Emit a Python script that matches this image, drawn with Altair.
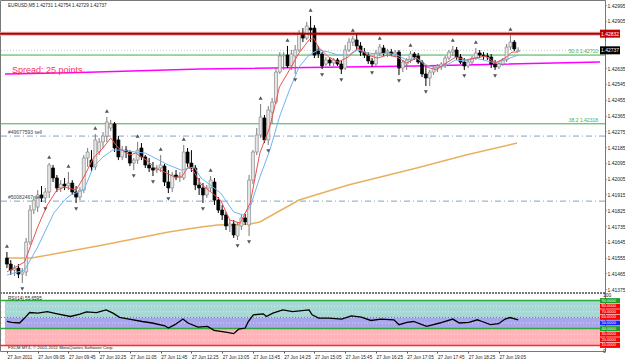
import altair as alt
import pandas as pd

HEADER = "EURUSD,M5  1.42731 1.42754 1.42729 1.42737"
SPREAD_TEXT = "Spread: 25 points"
RSI_TEXT = "RSI(14) 55.6595"
COPYRIGHT = "FXCM MT4, \u00a9 2001-2011 MetaQuotes Software Corp."

OPEN = [1.41552, 1.41518, 1.41484, 1.41495, 1.41461, 1.41473, 1.41644, 1.41826, 1.41843, 1.41912,
        1.41895, 1.41929, 1.42066, 1.42009, 1.41952, 1.41974, 1.41963, 1.41980, 1.41929, 1.41900,
        1.41940, 1.42123, 1.42111, 1.42072, 1.42157, 1.42214, 1.42248, 1.42294, 1.42317, 1.42226,
        1.42129, 1.42168, 1.42157, 1.42094, 1.42111, 1.42180, 1.42129, 1.42083, 1.42066, 1.42054,
        1.42066, 1.42077, 1.41986, 1.41952, 1.42026, 1.42014, 1.42009, 1.42157, 1.42094, 1.42066,
        1.41969, 1.41952, 1.41912, 1.41952, 1.41986, 1.41883, 1.41826, 1.41798, 1.41735, 1.41746,
        1.41678, 1.41735, 1.41781, 1.41741, 1.41997, 1.42157, 1.42254, 1.42351, 1.42226, 1.42385,
        1.42442, 1.42613, 1.42705, 1.42710, 1.42648, 1.42705, 1.42739, 1.42830, 1.42807, 1.42864,
        1.42864, 1.42739, 1.42716, 1.42659, 1.42682, 1.42665, 1.42682, 1.42659, 1.42636, 1.42739,
        1.42784, 1.42796, 1.42762, 1.42727, 1.42710, 1.42676, 1.42659, 1.42722, 1.42750, 1.42722,
        1.42727, 1.42716, 1.42727, 1.42636, 1.42659, 1.42682, 1.42716, 1.42705, 1.42670, 1.42602,
        1.42579, 1.42613, 1.42636, 1.42642, 1.42659, 1.42693, 1.42727, 1.42739, 1.42699, 1.42670,
        1.42648, 1.42670, 1.42693, 1.42722, 1.42710, 1.42705, 1.42699, 1.42659, 1.42642, 1.42659,
        1.42682, 1.42756, 1.42784, 1.42731]
HIGH = [1.41587, 1.41541, 1.41512, 1.41518, 1.41495, 1.41667, 1.41855, 1.41906, 1.41940, 1.41963,
        1.41952, 1.42094, 1.42083, 1.42026, 1.41997, 1.42009, 1.42043, 1.41997, 1.41963, 1.41957,
        1.42140, 1.42180, 1.42168, 1.42260, 1.42237, 1.42271, 1.42357, 1.42340, 1.42328, 1.42248,
        1.42191, 1.42191, 1.42168, 1.42123, 1.42214, 1.42208, 1.42140, 1.42123, 1.42100, 1.42083,
        1.42140, 1.42089, 1.42054, 1.42043, 1.42054, 1.42043, 1.42197, 1.42180, 1.42168, 1.42083,
        1.42009, 1.41980, 1.41969, 1.42020, 1.42009, 1.41900, 1.41855, 1.41815, 1.41769, 1.41769,
        1.41758, 1.41798, 1.41803, 1.42026, 1.42168, 1.42294, 1.42431, 1.42368, 1.42419, 1.42465,
        1.42636, 1.42727, 1.42727, 1.42762, 1.42739, 1.42767, 1.42853, 1.42864, 1.42899, 1.42933,
        1.42881, 1.42762, 1.42727, 1.42699, 1.42699, 1.42693, 1.42693, 1.42682, 1.42767, 1.42807,
        1.42819, 1.42830, 1.42784, 1.42750, 1.42727, 1.42693, 1.42739, 1.42773, 1.42767, 1.42745,
        1.42745, 1.42739, 1.42739, 1.42682, 1.42693, 1.42733, 1.42727, 1.42722, 1.42682, 1.42648,
        1.42625, 1.42648, 1.42659, 1.42670, 1.42705, 1.42739, 1.42762, 1.42756, 1.42716, 1.42693,
        1.42682, 1.42705, 1.42750, 1.42739, 1.42727, 1.42722, 1.42716, 1.42682, 1.42670, 1.42693,
        1.42773, 1.42824, 1.42796, 1.42754]
LOW = [1.41495, 1.41456, 1.41450, 1.41438, 1.41410, 1.41450, 1.41627, 1.41803, 1.41815, 1.41872,
       1.41866, 1.41895, 1.41986, 1.41929, 1.41929, 1.41940, 1.41940, 1.41912, 1.41866, 1.41883,
       1.41923, 1.42072, 1.42043, 1.42054, 1.42140, 1.42180, 1.42214, 1.42277, 1.42157, 1.42111,
       1.42111, 1.42123, 1.42077, 1.42054, 1.42089, 1.42111, 1.42066, 1.42043, 1.42020, 1.42037,
       1.42043, 1.41963, 1.41923, 1.41929, 1.41997, 1.41986, 1.41997, 1.42072, 1.42043, 1.41940,
       1.41912, 1.41866, 1.41895, 1.41929, 1.41855, 1.41809, 1.41769, 1.41712, 1.41701, 1.41667,
       1.41655, 1.41712, 1.41741, 1.41678, 1.41974, 1.42140, 1.42237, 1.42208, 1.42197, 1.42317,
       1.42431, 1.42602, 1.42625, 1.42636, 1.42625, 1.42602, 1.42727, 1.42784, 1.42796, 1.42784,
       1.42693, 1.42693, 1.42630, 1.42648, 1.42648, 1.42648, 1.42648, 1.42602, 1.42625, 1.42727,
       1.42762, 1.42739, 1.42705, 1.42693, 1.42659, 1.42642, 1.42648, 1.42705, 1.42705, 1.42699,
       1.42705, 1.42699, 1.42596, 1.42613, 1.42625, 1.42665, 1.42682, 1.42659, 1.42585, 1.42533,
       1.42533, 1.42596, 1.42613, 1.42625, 1.42636, 1.42682, 1.42705, 1.42682, 1.42659, 1.42625,
       1.42636, 1.42659, 1.42682, 1.42693, 1.42682, 1.42682, 1.42636, 1.42625, 1.42630, 1.42648,
       1.42670, 1.42739, 1.42733, 1.42729]
CLOSE = [1.41518, 1.41484, 1.41495, 1.41461, 1.41473, 1.41644, 1.41826, 1.41883, 1.41912, 1.41895,
         1.41929, 1.42083, 1.42009, 1.41952, 1.41974, 1.41963, 1.41980, 1.41929, 1.41900, 1.41940,
         1.42123, 1.42157, 1.42072, 1.42226, 1.42214, 1.42248, 1.42328, 1.42317, 1.42180, 1.42129,
         1.42168, 1.42157, 1.42094, 1.42111, 1.42168, 1.42129, 1.42083, 1.42066, 1.42054, 1.42066,
         1.42083, 1.41986, 1.41952, 1.42026, 1.42014, 1.42020, 1.42157, 1.42094, 1.42066, 1.41969,
         1.41952, 1.41912, 1.41952, 1.41997, 1.41883, 1.41826, 1.41798, 1.41735, 1.41746, 1.41684,
         1.41741, 1.41781, 1.41758, 1.41997, 1.42157, 1.42254, 1.42357, 1.42226, 1.42397, 1.42442,
         1.42613, 1.42705, 1.42710, 1.42648, 1.42716, 1.42739, 1.42830, 1.42807, 1.42876, 1.42853,
         1.42710, 1.42716, 1.42648, 1.42682, 1.42665, 1.42682, 1.42659, 1.42630, 1.42739, 1.42784,
         1.42802, 1.42762, 1.42727, 1.42710, 1.42676, 1.42659, 1.42722, 1.42756, 1.42722, 1.42733,
         1.42716, 1.42727, 1.42636, 1.42670, 1.42682, 1.42716, 1.42699, 1.42670, 1.42602, 1.42579,
         1.42613, 1.42636, 1.42648, 1.42659, 1.42693, 1.42727, 1.42739, 1.42699, 1.42670, 1.42648,
         1.42670, 1.42693, 1.42722, 1.42710, 1.42705, 1.42699, 1.42659, 1.42642, 1.42659, 1.42682,
         1.42756, 1.42784, 1.42745, 1.42737]

FRACTAL_UP = [0, 11, 16, 23, 26, 34, 40, 46, 53, 66, 73, 79, 90, 97, 105, 116, 122, 131]
FRACTAL_DOWN = [4, 10, 18, 33, 38, 42, 51, 60, 63, 68, 75, 82, 87, 95, 102, 109, 119, 127]

EMA_FAST_BAR = [0, 4.6, 8, 10.5, 13, 15, 18, 20, 22.5, 25, 27, 29, 32, 33.5, 35, 37, 38.5, 41, 43.6, 45.4,
                47.2, 48.7, 50.5, 55.6, 58, 60.7, 63.3, 65.8, 68.4, 70.9, 73.5, 76, 78.6, 79.8, 81, 83.7,
                86.2, 88.8, 91.3, 93.9, 96.4, 99, 101.5, 104, 106.6, 109.2, 111.7, 114.3, 116.8, 119.4,
                121.9, 124.5, 127, 129.6, 131.4, 133]
EMA_FAST = [1.41473, 1.41530, 1.41729, 1.41855, 1.41940, 1.41957, 1.41940, 1.42014, 1.42123, 1.42180,
            1.42237, 1.42180, 1.42140, 1.42151, 1.42129, 1.42100, 1.42066, 1.42043, 1.42014, 1.42014,
            1.42072, 1.42043, 1.41974, 1.41883, 1.41769, 1.41752, 1.41866, 1.42151, 1.42300, 1.42528,
            1.42625, 1.42722, 1.42796, 1.42807, 1.42756, 1.42699, 1.42670, 1.42699, 1.42750, 1.42710,
            1.42693, 1.42710, 1.42699, 1.42665, 1.42693, 1.42642, 1.42625, 1.42665, 1.42699, 1.42682,
            1.42693, 1.42705, 1.42665, 1.42693, 1.42727, 1.42727]
EMA_SLOW_BAR = [0, 4.6, 8, 12.2, 15, 16.6, 20, 22.5, 25, 27.5, 30, 33.4, 36, 38.5, 42, 45.4, 48.7, 50.5,
                55.6, 59, 61.5, 63.3, 65.8, 68.4, 70.9, 73.5, 76, 78.6, 81, 83.7, 86.2, 88.8, 91.3, 93.9,
                96.4, 99, 101.5, 104, 106.6, 109.2, 111.7, 114.3, 116.8, 119.4, 121.9, 127, 129.6, 133]
EMA_SLOW = [1.41456, 1.41484, 1.41615, 1.41809, 1.41883, 1.41912, 1.41940, 1.42072, 1.42129, 1.42168,
            1.42168, 1.42157, 1.42151, 1.42123, 1.42083, 1.42054, 1.42072, 1.42009, 1.41923, 1.41815,
            1.41798, 1.41843, 1.42014, 1.42168, 1.42357, 1.42511, 1.42642, 1.42710, 1.42739, 1.42727,
            1.42710, 1.42710, 1.42739, 1.42722, 1.42716, 1.42722, 1.42710, 1.42682, 1.42693, 1.42653,
            1.42636, 1.42653, 1.42682, 1.42676, 1.42693, 1.42665, 1.42682, 1.42710]
MA_LONG_BAR = [0, 6.4, 25, 42.1, 50.5, 54.8, 63.3, 65.8, 76, 88.8, 106.6, 119.4, 132.7]
MA_LONG = [1.41552, 1.41552, 1.41627, 1.41701, 1.41729, 1.41741, 1.41746, 1.41758, 1.41883, 1.41969,
           1.42066, 1.42140, 1.42208]
SPREAD_LINE_BAR = [-0.5, 16.6, 50.5, 106.6, 154.3]
SPREAD_LINE = [1.42602, 1.42609, 1.42630, 1.42648, 1.42670]

RESIST_LEVEL = 1.42832
BID_LEVEL = 1.42737
FIB_LEVELS = [1.42710, 1.42318]
FIB_LABELS = ["50.0 1.42710", "38.2 1.42318"]
ORDER_LEVELS = [1.42248, 1.41877]
ORDER_LABELS = ["#49677593 sell", "#50082467 sell"]
SPREAD_TEXT_LEVEL = 1.42625

RSI_BAR = [0, 1.2, 3.3, 4.6, 5.9, 8.0, 10.5, 13.1, 16.5, 19.0, 20.7, 23.3, 25.8, 27.6, 29.3, 31.8, 35.2,
           37.8, 41.1, 42.0, 43.7, 45.8, 47.1, 49.7, 52.2, 53.9, 57.3, 59.0, 60.3, 62.0, 62.8, 64.1,
           66.7, 67.5, 69.2, 71.8, 74.3, 78.6, 79.4, 81.1, 83.7, 87.1, 89.6, 92.2, 94.7, 97.3, 100.7,
           102.0, 104.1, 105.8, 109.2, 112.6, 116.0, 117.7, 120.2, 122.4, 123.6, 125.8, 127.9, 129.6,
           130.9, 133]
RSI = [52.7, 51, 50, 58.8, 68.7, 67.6, 70.4, 66.4, 61.6, 66, 70, 68.7, 73.5, 67.6, 60, 57, 52.7,
       50, 45, 41, 47, 57, 50, 42.8, 44, 36.8, 33.3, 31, 39, 41, 52.7, 64.6,
       66.4, 61.6, 67.6, 73.5, 70.4, 73.5, 64.6, 58.8, 58.8, 57, 62.8, 60.5, 54.5, 57, 55.7,
       47, 51, 52.7, 44, 50, 57, 50, 51, 55.7, 52.7, 47, 48.7, 57,
       59.8, 55.66]

PRICE_TICKS = [1.41375, 1.41465, 1.41555, 1.41645, 1.41735, 1.41825, 1.41915, 1.42005, 1.42095,
               1.42185, 1.42275, 1.42365, 1.42455, 1.42545, 1.42635, 1.42905, 1.42995]
TIME_TICKS = [0, 8, 16, 24, 32, 40, 48, 56, 64, 72, 80, 88, 96, 104, 112, 120, 128]
TIME_LABELS = ["27 Jun 2011", "27 Jun 09:05", "27 Jun 09:45", "27 Jun 10:25", "27 Jun 11:05",
               "27 Jun 11:45", "27 Jun 12:25", "27 Jun 13:05", "27 Jun 13:45", "27 Jun 14:25",
               "27 Jun 15:05", "27 Jun 15:45", "27 Jun 16:25", "27 Jun 17:05", "27 Jun 17:45",
               "27 Jun 18:25", "27 Jun 19:05"]

RSI_BANDS_LO = [60, 40, 10]
RSI_BANDS_HI = [90, 60, 40]
RSI_BAND_COLORS = ["#a6d9d6", "#a9a6ee", "#ffb4b9"]
RSI_SOLID = [90, 40, 10]
RSI_SOLID_COLORS = ["#2fa83c", "#2fa83c", "#ff2a2a"]
RSI_DOTTED = [80, 70, 60, 50, 30, 20]
RSI_DOTTED_COLORS = ["#d8eeee", "#d8eeee", "#d0602c", "#d4d2fa", "#ffd6d8", "#ffd6d8"]
RSI_BOX_LEVELS = [90, 80, 70, 60, 50, 40, 30, 20, 10]
RSI_BOX_COLORS = ["#1c9c2c", "#ff0000", "#ff0000", "#ff0000", "#2020ff", "#1c9c2c", "#ff0000", "#ff0000", "#ff0000"]

FONT = "Liberation Sans"
X_MIN, X_MAX = -0.5, 154.3
P_MIN, P_MAX = 1.41353, 1.43024
PLOT_W = 605

xs = alt.Scale(domain=[X_MIN, X_MAX], nice=False, zero=False)
ps = alt.Scale(domain=[P_MIN, P_MAX], range=[293, 0], nice=False, zero=False)
rs = alt.Scale(domain=[0, 100], range=[351, 295], nice=False, zero=False)

n = len(OPEN)
candles = pd.DataFrame({"i": list(range(n)), "o": OPEN, "h": HIGH, "l": LOW, "c": CLOSE})
candles["dir"] = ["bull" if c >= o else "bear" for o, c in zip(OPEN, CLOSE)]
up = candles[candles["i"].isin(FRACTAL_UP)]
down = candles[candles["i"].isin(FRACTAL_DOWN)]

time_expr = " : ".join("datum.value == %d ? '%s'" % (t, s) for t, s in zip(TIME_TICKS, TIME_LABELS)) + " : ''"
x_axis = alt.Axis(values=TIME_TICKS, labelExpr=time_expr,
                  orient="bottom", labelAlign="left", labelBaseline="top", labelFontSize=4.6, labelFont=FONT,
                  labelColor="#222", tickSize=2, tickColor="#555", labelPadding=1, domain=False, grid=False,
                  title=None, labelFlush=False, labelOverlap=False)
y_axis = alt.Axis(values=PRICE_TICKS, format=".5f", orient="right", labelFontSize=5, labelFont=FONT,
                  labelColor="#222", tickSize=1, tickColor="#555", domainColor="#6a7a8a", labelPadding=1,
                  grid=False, title=None, labelOverlap=False, labelFlush=False)

def X(field, axis=None):
    return alt.X(field, type="quantitative", scale=xs, axis=axis)

def P(field, axis=None):
    return alt.Y(field, type="quantitative", scale=ps, axis=axis)

base_c = alt.Chart(candles)
wicks = base_c.mark_rule(strokeWidth=1).encode(
    x=X("i"), y=P("l"), y2="h",
    color=alt.Color("dir:N", scale=alt.Scale(domain=["bull", "bear"], range=["#7a7a7a", "#000000"]), legend=None))
bodies = base_c.mark_bar(size=3, strokeWidth=0.7).encode(
    x=X("i"), y=P("o"), y2="c",
    fill=alt.Fill("dir:N", scale=alt.Scale(domain=["bull", "bear"], range=["#e6e6e6", "#000000"]), legend=None),
    stroke=alt.Stroke("dir:N", scale=alt.Scale(domain=["bull", "bear"], range=["#8a8a8a", "#000000"]), legend=None))
frac_up = alt.Chart(up).mark_point(shape="triangle-up", filled=True, size=16, color="#555555", yOffset=-6, opacity=1).encode(
    x=X("i"), y=P("h"))
frac_dn = alt.Chart(down).mark_point(shape="triangle-down", filled=True, size=16, color="#555555", yOffset=6, opacity=1).encode(
    x=X("i"), y=P("l"))

def series(bars, vals, color, width):
    df = pd.DataFrame({"b": bars, "v": vals})
    return alt.Chart(df).mark_line(color=color, strokeWidth=width).encode(x=X("b"), y=P("v"))

ma_line = series(MA_LONG_BAR, MA_LONG, "#e8b060", 1.5)
slow_line = series(EMA_SLOW_BAR, EMA_SLOW, "#6fb4ee", 1)
fast_line = series(EMA_FAST_BAR, EMA_FAST, "#f05050", 1)
spread_line = series(SPREAD_LINE_BAR, SPREAD_LINE, "#ff00ff", 1.5)

one = pd.DataFrame({"k": [0]})
def hline(level, color, width, dash=None):
    kw = dict(color=color, strokeWidth=width)
    if dash:
        kw["strokeDash"] = dash
    return alt.Chart(one).mark_rule(**kw).encode(y=alt.datum(level, type="quantitative", scale=ps, axis=None))

resist_halo = hline(RESIST_LEVEL, "#f2b6b6", 4)
resist = hline(RESIST_LEVEL, "#b00000", 2)
bid = hline(BID_LEVEL, "#c8c8c8", 1, [1, 2])
fibs = [hline(v, "#3cae48", 1) for v in FIB_LEVELS]
orders = [hline(v, "#7ea4cc", 1, [6, 3, 1, 3]) for v in ORDER_LEVELS]
divider = hline(P_MIN, "#7a7a7a", 2, [2, 1])

fib_df = pd.DataFrame({"v": FIB_LEVELS, "t": FIB_LABELS})
fib_text = alt.Chart(fib_df).mark_text(align="right", baseline="bottom", dx=-2, dy=-1, fontSize=5,
                                       font=FONT, color="#3cae48").encode(
    x=alt.datum(X_MAX, type="quantitative", scale=xs, axis=None), y=P("v"), text="t:N")
ord_df = pd.DataFrame({"v": ORDER_LEVELS, "t": ORDER_LABELS})
ord_text = alt.Chart(ord_df).mark_text(align="left", baseline="bottom", dx=3, dy=-1, fontSize=5,
                                       font=FONT, color="#444").encode(
    x=alt.datum(X_MIN, type="quantitative", scale=xs, axis=None), y=P("v"), text="t:N")
header = alt.Chart(one).mark_text(align="left", baseline="top", dx=3, dy=3, fontSize=4.6, font=FONT,
                                  color="#222", text=HEADER).encode(
    x=alt.datum(X_MIN, type="quantitative", scale=xs, axis=None),
    y=alt.datum(P_MAX, type="quantitative", scale=ps, axis=None))
spread_txt = alt.Chart(one).mark_text(align="left", baseline="middle", dx=7, fontSize=9, font=FONT,
                                      color="#ff2a6a", text=SPREAD_TEXT).encode(
    x=alt.datum(X_MIN, type="quantitative", scale=xs, axis=None),
    y=alt.datum(SPREAD_TEXT_LEVEL, type="quantitative", scale=ps, axis=None))

box_df = pd.DataFrame({"v": [RESIST_LEVEL, BID_LEVEL], "t": ["%.5f" % RESIST_LEVEL, "%.5f" % BID_LEVEL],
                       "col": ["#c00000", "#000000"]})
price_boxes = alt.Chart(box_df).mark_rect(x2Offset=20, yOffset=-4, y2Offset=4).encode(
    x=alt.datum(X_MAX, type="quantitative", scale=xs, axis=None),
    x2=alt.datum(X_MAX), y=P("v"), y2="v", color=alt.Color("col:N", scale=None, legend=None))
price_box_txt = alt.Chart(box_df).mark_text(align="left", baseline="middle", dx=1, fontSize=5, font=FONT,
                                            color="white").encode(
    x=alt.datum(X_MAX, type="quantitative", scale=xs, axis=None), y=P("v"), text="t:N")

price_parts = [resist_halo, bid, *fibs, *orders, ma_line, spread_line, wicks, bodies, slow_line, fast_line,
               frac_up, frac_dn, resist, divider, fib_text, ord_text, header, spread_txt, price_boxes,
               price_box_txt]

# RSI panel
def R(field):
    return alt.Y(field, type="quantitative", scale=rs, axis=None)

band_df = pd.DataFrame({"lo": RSI_BANDS_LO, "hi": RSI_BANDS_HI, "col": RSI_BAND_COLORS})
bands = alt.Chart(band_df).mark_rect().encode(
    x=alt.datum(X_MIN, type="quantitative", scale=xs, axis=None), x2=alt.datum(X_MAX),
    y=R("lo"), y2="hi", color=alt.Color("col:N", scale=None, legend=None))
solid_df = pd.DataFrame({"v": RSI_SOLID, "col": RSI_SOLID_COLORS})
solid = alt.Chart(solid_df).mark_rule(strokeWidth=1.5).encode(
    y=R("v"), color=alt.Color("col:N", scale=None, legend=None))
dot_df = pd.DataFrame({"v": RSI_DOTTED, "col": RSI_DOTTED_COLORS})
dotted = alt.Chart(dot_df).mark_rule(strokeWidth=1, strokeDash=[1, 2]).encode(
    y=R("v"), color=alt.Color("col:N", scale=None, legend=None))
rsi_df = pd.DataFrame({"b": RSI_BAR, "v": RSI})
rsi_line = alt.Chart(rsi_df).mark_line(color="#000000", strokeWidth=1.3).encode(x=X("b"), y=R("v"))
rsi_label = alt.Chart(one).mark_text(align="left", baseline="top", dx=3, dy=1, fontSize=4.6, font=FONT,
                                     color="#222", text=RSI_TEXT).encode(
    x=alt.datum(X_MIN, type="quantitative", scale=xs, axis=None),
    y=alt.datum(100, type="quantitative", scale=rs, axis=None))
copy_label = alt.Chart(one).mark_text(align="left", baseline="bottom", dx=3, dy=-1, fontSize=4.4, font=FONT,
                                      color="#222", text=COPYRIGHT).encode(
    x=alt.datum(X_MIN, type="quantitative", scale=xs, axis=None),
    y=alt.datum(0, type="quantitative", scale=rs, axis=None))
rbox_df = pd.DataFrame({"v": RSI_BOX_LEVELS, "col": RSI_BOX_COLORS,
                        "t": ["%.4f" % v for v in RSI_BOX_LEVELS]})
rsi_boxes = alt.Chart(rbox_df).mark_rect(x2Offset=20, yOffset=-2.5, y2Offset=2.5).encode(
    x=alt.datum(X_MAX, type="quantitative", scale=xs, axis=None), x2=alt.datum(X_MAX),
    y=R("v"), y2="v", color=alt.Color("col:N", scale=None, legend=None))
rsi_box_txt = alt.Chart(rbox_df).mark_text(align="left", baseline="middle", dx=1.5, fontSize=4, font=FONT,
                                           color="white").encode(
    x=alt.datum(X_MAX, type="quantitative", scale=xs, axis=None), y=R("v"), text="t:N")
end_df = pd.DataFrame({"v": [100, 0], "t": ["100", "0"]})
rsi_end_txt = alt.Chart(end_df).mark_text(align="left", baseline="middle", dx=3, fontSize=5, font=FONT,
                                          color="#222").encode(
    x=alt.datum(X_MAX, type="quantitative", scale=xs, axis=None), y=R("v"), text="t:N")

rsi_parts = [bands, dotted, solid, rsi_line, rsi_label, copy_label, rsi_boxes, rsi_box_txt, rsi_end_txt]

# invisible layer that carries the price axis and the time axis
axes_layer = alt.Chart(candles).mark_point(opacity=0, size=1).encode(
    x=X("i", x_axis), y=P("c", y_axis))

chart = alt.layer(*price_parts, *rsi_parts, axes_layer).resolve_scale(y="independent").resolve_axis(
    x="independent", y="independent").properties(
    width=PLOT_W, height=351,
    autosize=alt.AutoSizeParams(type="none"),
    padding={"left": 0, "top": 0, "right": 625 - PLOT_W, "bottom": 10},
    background="white",
).configure_view(stroke="#7a7a7a", strokeWidth=1)

chart.save("out.html", embed_options={"renderer": "svg", "actions": False})
